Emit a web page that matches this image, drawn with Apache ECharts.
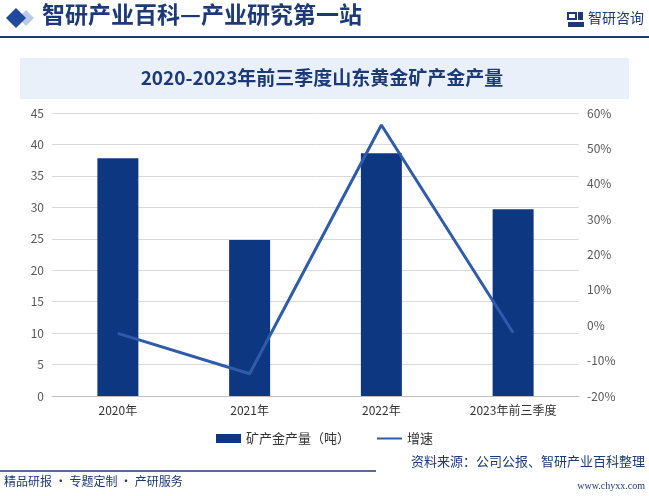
<!DOCTYPE html>
<html><head><meta charset="utf-8">
<script src="https://cdn.jsdelivr.net/npm/echarts@6/dist/echarts.min.js"></script>
<style>html,body{margin:0;padding:0;background:#fff}#c{width:649px;height:496px}</style>
</head><body><div id="c"></div>
<script>
var categories = ['2020年', '2021年', '2022年', '2023年前三季度'];
var production = [37.8, 24.8, 38.6, 29.7];
var growth = [-2.3, -13.7, 56.6, -2.1];
var leftTicks = {min: 0, max: 45, interval: 5};
var rightTicks = {min: -20, max: 60, interval: 10};

var chart = echarts.init(document.getElementById('c'));
var font = '"Noto Sans CJK SC", "Noto Sans", sans-serif';
chart.setOption({
  animation: false,
  backgroundColor: '#fff',
  textStyle: {fontFamily: font},
  graphic: [
    {type: 'polygon', shape: {points: [[6,18],[16,8],[26,18],[16,28]]}, style: {fill: '#1f4a9c'}},
    {type: 'polygon', shape: {points: [[18,18],[26,10],[34,18],[26,26]]}, style: {fill: '#b9c9e6'}, z: -1},
    {type: 'text', left: 42, top: 3, style: {text: '智研产业百科—产业研究第一站', fontSize: 23, fontWeight: 'bold', fill: '#1c3a78', fontFamily: font}},
    {type: 'rect', shape: {x: 568, y: 13, width: 8, height: 6}, style: {fill: 'none', stroke: '#1c3a78', lineWidth: 2}},
    {type: 'rect', shape: {x: 568, y: 22, width: 16, height: 5}, style: {fill: '#1c3a78'}},
    {type: 'rect', shape: {x: 578, y: 12, width: 5, height: 8}, style: {fill: '#1c3a78'}},
    {type: 'text', left: 588, top: 11, style: {text: '智研咨询', fontSize: 14, fill: '#1c3a78', fontFamily: font}},
    {type: 'line', shape: {x1: 0, y1: 37, x2: 649, y2: 37}, style: {stroke: '#1c3a78', lineWidth: 2}},
    {type: 'rect', shape: {x: 20, y: 58, width: 609, height: 41}, style: {fill: '#e9f0fa'}},
    {type: 'text', x: 322, y: 78, style: {text: '2020-2023年前三季度山东黄金矿产金产量', fontSize: 19, fontWeight: 'bold', fill: '#1c3a78', align: 'center', verticalAlign: 'middle', fontFamily: font}},
    {type: 'line', shape: {x1: 0, y1: 471, x2: 376, y2: 471}, style: {stroke: '#1c3a78', lineWidth: 1.5}},
    {type: 'text', left: 4, top: 475, style: {text: '精品研报 · 专题定制 · 产研服务', fontSize: 12, fill: '#1c3a78', fontFamily: font}},
    {type: 'text', right: 4, top: 455, style: {text: '资料来源：公司公报、智研产业百科整理', fontSize: 13, fill: '#1c3a78', fontFamily: font}},
    {type: 'text', right: 4, top: 481, style: {text: 'www.chyxx.com', fontSize: 10, fill: '#1c3a78', fontFamily: '"Liberation Serif", serif'}}
  ],
  legend: {
    bottom: 46, left: 'center', itemGap: 26,
    itemWidth: 25, itemHeight: 9,
    textStyle: {fontSize: 13, color: '#333'},
    data: [{name: '矿产金产量（吨）', icon: 'rect'}, {name: '增速', itemStyle: {opacity: 0}}]
  },
  grid: {left: 52, right: 70, top: 113, bottom: 100},
  xAxis: {
    type: 'category', data: categories,
    axisLine: {lineStyle: {color: '#bfbfbf'}},
    axisTick: {show: false},
    axisLabel: {color: '#333', fontSize: 12, margin: 8}
  },
  yAxis: [
    {type: 'value', min: leftTicks.min, max: leftTicks.max, interval: leftTicks.interval,
     axisLabel: {color: '#595959', fontSize: 12},
     splitLine: {lineStyle: {color: '#d9d9d9'}}, axisLine: {show: false}},
    {type: 'value', min: rightTicks.min, max: rightTicks.max, interval: rightTicks.interval,
     axisLabel: {color: '#595959', fontSize: 12, formatter: '{value}%'},
     splitLine: {show: false}, axisLine: {show: false}}
  ],
  series: [
    {name: '矿产金产量（吨）', type: 'bar', data: production, barWidth: 41, itemStyle: {color: '#0e3782'}},
    {name: '增速', type: 'line', yAxisIndex: 1, data: growth, symbol: 'none', lineStyle: {width: 3, color: '#2f5bab'}, itemStyle: {color: '#2f5bab'}}
  ]
});
</script></body></html>
